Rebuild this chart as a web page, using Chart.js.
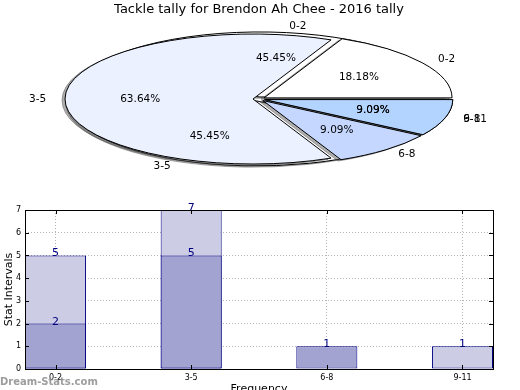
<!DOCTYPE html>
<html>
<head>
<meta charset="utf-8">
<title>Tackle tally</title>
<script src="https://cdn.jsdelivr.net/npm/chart.js@4.4.1/dist/chart.umd.min.js"></script>
<style>
    html, body { margin: 0; padding: 0; background: #fff; overflow: hidden; }
    #wrap { position: relative; width: 520px; height: 390px; }
    #wrap canvas { position: absolute; left: 0; top: 0; }
</style>
</head>
<body>
<div id="wrap">
    <canvas id="pieBack" width="520" height="390"></canvas>
    <canvas id="pieFront" width="520" height="390"></canvas>
    <canvas id="barChart" width="520" height="400"></canvas>
</div>
<script>
const chartTitle = 'Tackle tally for Brendon Ah Chee - 2016 tally';
const intervals = ['0-2', '3-5', '6-8', '9-11'];

// the two pies drawn on top of each other
const pieFrontValues = [2, 7, 1, 1];
const pieBackValues = [5, 5, 1, 0];
const pieFrontColors = ['#ffffff', '#ebf1ff', '#c5d7ff', '#b3d4ff'];
const pieBackColors = ['#ffffff', '#ffffff', '#ffffff', '#ffffff'];

// bars: light ones sit behind the dark ones
const barBackValues = [5, 7, 0, 1];
const barFrontValues = [2, 5, 1, 0];
const yTicks = [0, 1, 2, 3, 4, 5, 6, 7];

const PIE_CY = 99;      // screen centre of the squashed pie
const PIE_R = 188;      // horizontal radius
const PIE_RY = 65;      // vertical radius
const EXPLODE = 6;
const SHADOW_DX = -3;
const SHADOW_DY = 1.3;

Chart.defaults.font.family = '"DejaVu Sans", sans-serif';
Chart.defaults.color = '#000';

// squash the pie into an ellipse, explode slices and add a flat shadow below them
const squashPlugin = {
    id: 'squash',
    afterUpdate(chart) {
        chart.getDatasetMeta(0).data.forEach(arc => {
            if (arc.$exploded) return;
            const draw = arc.draw;
            arc.draw = function (ctx, area) {
                const mid = (this.startAngle + this.endAngle) / 2;
                ctx.save();
                ctx.translate(Math.cos(mid) * EXPLODE, Math.sin(mid) * EXPLODE);
                draw.call(this, ctx, area);
                ctx.restore();
            };
            arc.$exploded = true;
        });
    },
    beforeDatasetsDraw(chart) {
        const ctx = chart.ctx;
        const area = chart.chartArea;
        const base = ctx.getTransform();
        const stroke = ctx.stroke;
        // keep the outline 1px wide after the vertical squash
        ctx.stroke = function () {
            this.save();
            this.setTransform(base);
            stroke.call(this);
            this.restore();
        };
        ctx.save();
        ctx.translate(0, PIE_CY);
        ctx.scale(1, -PIE_RY / PIE_R);
        ctx.translate(0, -(area.top + area.bottom) / 2);

        chart.getDatasetMeta(0).data.forEach(arc => {
            ctx.save();
            ctx.shadowColor = 'rgba(77, 77, 77, 0.45)';
            ctx.shadowOffsetX = SHADOW_DX - 10000;
            ctx.shadowOffsetY = SHADOW_DY;
            ctx.translate(10000, 0);
            arc.draw(ctx);
            ctx.restore();
        });
    },
    afterDatasetsDraw(chart) {
        chart.ctx.restore();
        delete chart.ctx.stroke;
    }
};

function pieConfig(values, colors, withTitle) {
    return {
        type: 'pie',
        data: {
            labels: intervals,
            datasets: [{
                data: values,
                backgroundColor: colors,
                borderColor: '#000',
                borderWidth: 1,
                radius: PIE_R,
                clip: false
            }]
        },
        options: {
            responsive: false,
            animation: false,
            events: [],
            rotation: 90,
            layout: { padding: { right: 2 } },
            plugins: {
                legend: { display: false },
                tooltip: { enabled: false },
                title: {
                    display: withTitle,
                    text: chartTitle,
                    color: '#000',
                    font: { size: 13, weight: 'normal' },
                    padding: { top: 2, bottom: 0 }
                }
            }
        },
        plugins: [squashPlugin]
    };
}

function drawPieTexts(ctx, chart, values) {
    const meta = chart.getDatasetMeta(0);
    const total = values.reduce((a, b) => a + b, 0);
    const k = PIE_RY / PIE_R;
    ctx.save();
    ctx.font = '10.5px "DejaVu Sans"';
    ctx.fillStyle = '#000';
    ctx.textBaseline = 'middle';
    meta.data.forEach((arc, i) => {
        if (!values[i]) return;
        const mid = (arc.startAngle + arc.endAngle) / 2;
        const cos = Math.cos(mid);
        const sin = Math.sin(mid);
        const at = r => [arc.x + (EXPLODE + r) * cos, PIE_CY - k * (EXPLODE + r) * sin];

        let [x, y] = at(arc.outerRadius * 1.1);
        ctx.textAlign = cos >= 0 ? 'left' : 'right';
        ctx.fillText(intervals[i], x, y);

        [x, y] = at(arc.outerRadius * 0.6);
        ctx.textAlign = 'center';
        ctx.fillText((values[i] / total * 100).toFixed(2) + '%', x, y);
    });
    ctx.restore();
}

const pieBack = new Chart(document.getElementById('pieBack'), pieConfig(pieBackValues, pieBackColors, false));

const frontConfig = pieConfig(pieFrontValues, pieFrontColors, true);
frontConfig.plugins.push({
    id: 'pieTexts',
    afterDraw(chart) {
        drawPieTexts(chart.ctx, chart, pieFrontValues);
        drawPieTexts(chart.ctx, pieBack, pieBackValues);
    }
});
const pieFront = new Chart(document.getElementById('pieFront'), frontConfig);

// bar chart
function toPoints(values) {
    return values.map((v, i) => ({ x: i, y: v })).filter(p => p.y > 0);
}

const barExtras = {
    id: 'barExtras',
    afterDraw(chart) {
        const ctx = chart.ctx;
        const { left, right, top, bottom } = chart.chartArea;
        const xScale = chart.scales.x;
        const yScale = chart.scales.y;
        ctx.save();

        // value labels on top of the bars
        ctx.font = '11px "DejaVu Sans"';
        ctx.fillStyle = '#000080';
        ctx.textAlign = 'center';
        ctx.textBaseline = 'alphabetic';
        chart.data.datasets.forEach((ds, di) => {
            chart.getDatasetMeta(di).data.forEach((bar, i) => {
                ctx.fillText(ds.data[i].y, bar.x, bar.y + 1);
            });
        });

        // frame and inward tick marks
        ctx.strokeStyle = '#000';
        ctx.lineWidth = 1;
        ctx.strokeRect(left + 0.5, top + 0.5, right - left, bottom - top);
        ctx.beginPath();
        yScale.ticks.forEach(t => {
            const y = Math.round(yScale.getPixelForValue(t.value)) + 0.5;
            ctx.moveTo(left, y); ctx.lineTo(left + 4, y);
            ctx.moveTo(right, y); ctx.lineTo(right - 4, y);
        });
        xScale.ticks.forEach(t => {
            const x = Math.round(xScale.getPixelForValue(t.value)) + 0.5;
            ctx.moveTo(x, bottom); ctx.lineTo(x, bottom - 4);
            ctx.moveTo(x, top); ctx.lineTo(x, top + 4);
        });
        ctx.stroke();

        // watermark
        ctx.font = 'bold 10px "DejaVu Sans"';
        ctx.fillStyle = 'rgba(140, 140, 140, 0.85)';
        ctx.textAlign = 'left';
        ctx.fillText('Dream-Stats.com', 0, 385);
        ctx.restore();
    }
};

const barChart = new Chart(document.getElementById('barChart'), {
    type: 'bar',
    data: {
        datasets: [
            {
                data: toPoints(barFrontValues),
                backgroundColor: '#a3a3d1',
                borderColor: '#000080',
                borderWidth: 1,
                borderSkipped: false,
                grouped: false,
                barPercentage: 0.45,
                categoryPercentage: 1,
                order: 0
            },
            {
                data: toPoints(barBackValues),
                backgroundColor: '#cccce5',
                borderColor: '#000080',
                borderWidth: 1,
                borderSkipped: false,
                grouped: false,
                barPercentage: 0.45,
                categoryPercentage: 1,
                order: 1
            }
        ]
    },
    options: {
        responsive: false,
        animation: false,
        events: [],
        layout: { padding: { top: 210, right: 27, left: 0, bottom: 0 } },
        plugins: {
            legend: { display: false },
            tooltip: { enabled: false }
        },
        scales: {
            x: {
                type: 'linear',
                min: -0.225,
                max: 3.225,
                offset: false,
                z: 1,
                afterBuildTicks: scale => {
                    scale.ticks = intervals.map((_, i) => ({ value: i }));
                },
                afterFit: scale => { scale.height = 31; },
                ticks: {
                    callback: v => intervals[v],
                    font: { size: 8 },
                    color: '#000',
                    padding: 4,
                    autoSkip: false,
                    maxRotation: 0
                },
                grid: { color: '#b4b4b4', drawTicks: false, offset: false },
                border: { display: false, dash: [1, 2] },
                title: {
                    display: true,
                    text: 'Frequency',
                    color: '#000',
                    font: { size: 11 },
                    padding: { top: 0, bottom: 4 }
                }
            },
            y: {
                min: 0,
                max: 7,
                z: 1,
                afterBuildTicks: scale => {
                    scale.ticks = yTicks.map(v => ({ value: v }));
                },
                afterFit: scale => { scale.width = 25; },
                ticks: {
                    font: { size: 8 },
                    color: '#000',
                    padding: 4
                },
                grid: { color: '#b4b4b4', drawTicks: false },
                border: { display: false, dash: [1, 2] },
                title: {
                    display: true,
                    text: 'Stat Intervals',
                    color: '#000',
                    font: { size: 11 },
                    padding: { top: 3, bottom: 0 }
                }
            }
        }
    },
    plugins: [barExtras]
});
</script>
</body>
</html>
